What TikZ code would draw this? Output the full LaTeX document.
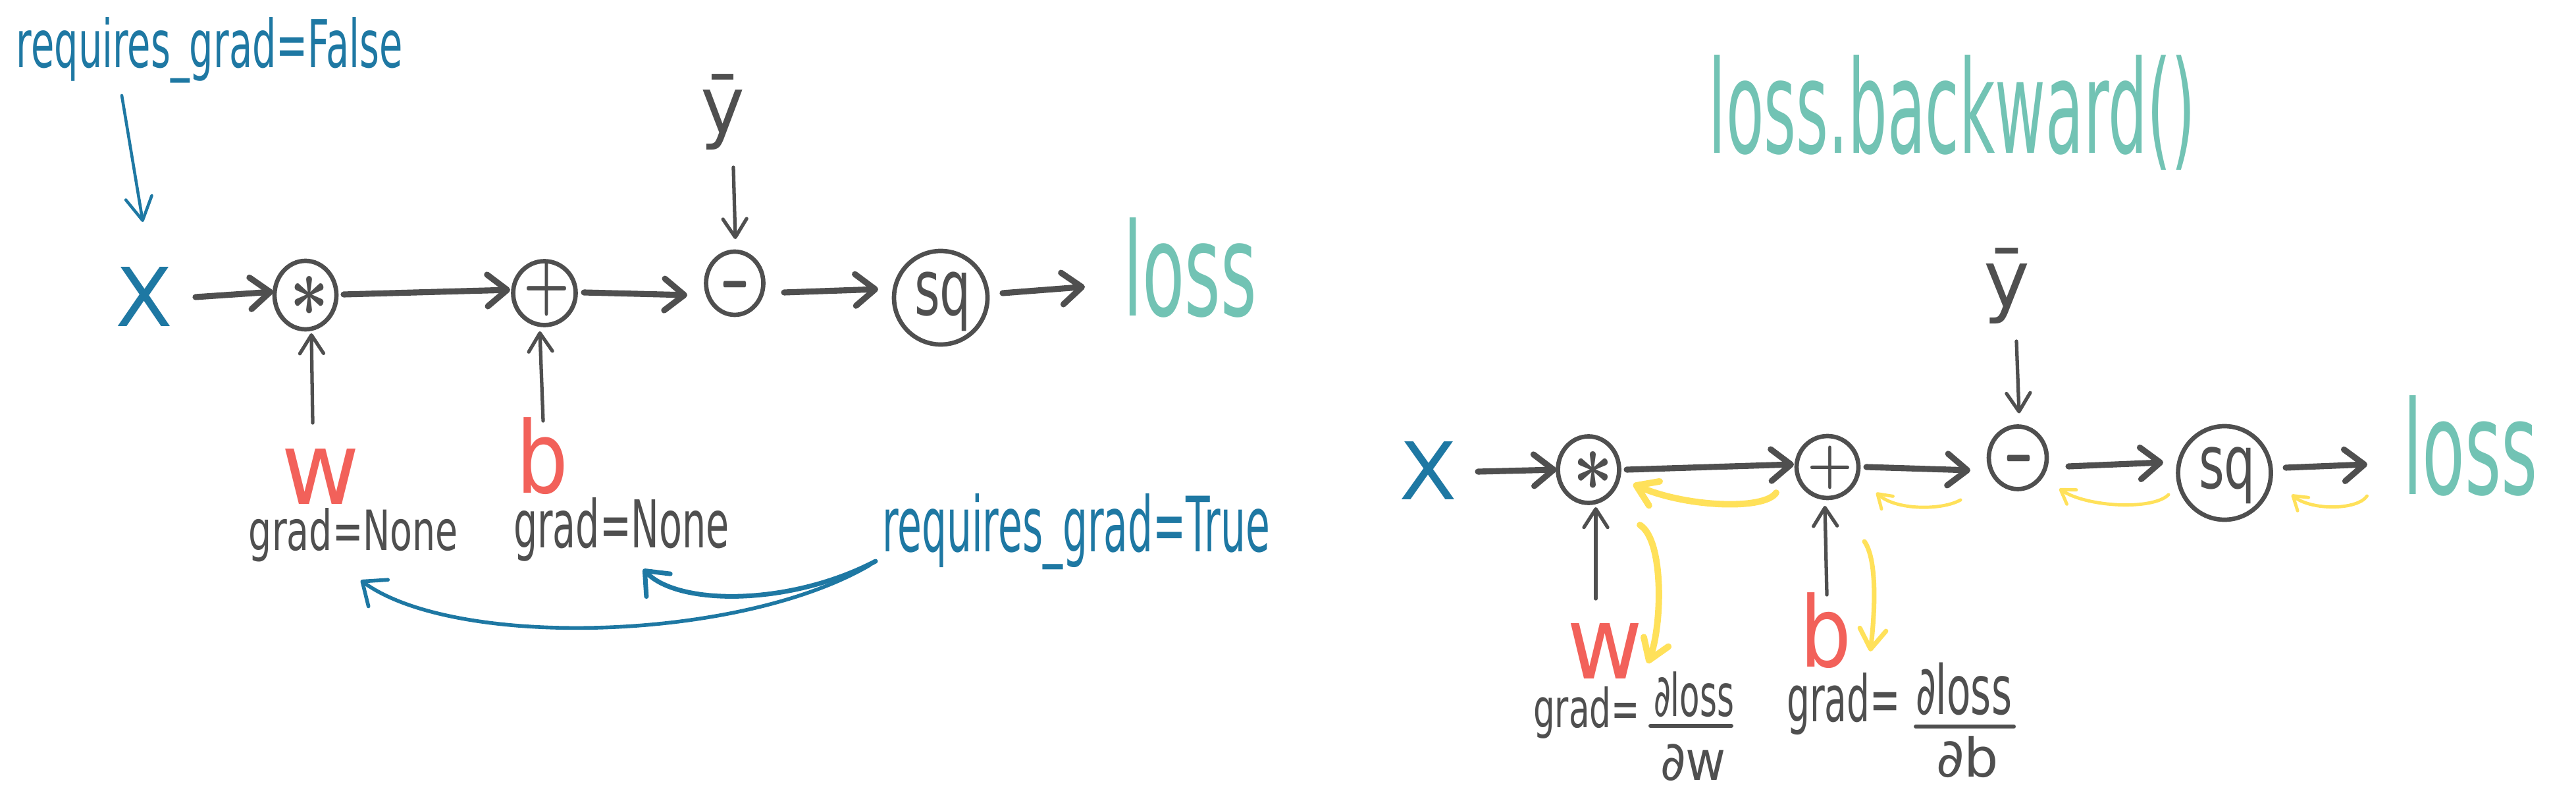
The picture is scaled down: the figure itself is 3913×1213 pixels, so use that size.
\documentclass[tikz,border=0pt]{standalone}
\usepackage[no-math]{fontspec}
\usepackage{graphicx}
\usetikzlibrary{arrows.meta,shapes.geometric,calc}
\newfontfamily\hand{DejaVu Sans}
\definecolor{ink}{HTML}{4F4F4F}
\definecolor{blueink}{HTML}{1E78A3}
\definecolor{redink}{HTML}{F2615A}
\definecolor{tealink}{HTML}{72C3B4}
\definecolor{yelink}{HTML}{FFE15A}
\newdimen\pxu \pxu=0.01cm
% fit the whole box (height+depth)
\newcommand\fitxt[3]{\resizebox*{#1\pxu}{#2\pxu}{\hand #3}}
% fit width and height above the baseline
\newcommand\basetxt[3]{\resizebox{#1\pxu}{#2\pxu}{\hand #3}}
\newcommand\fitsym[3]{\resizebox*{#1\pxu}{#2\pxu}{\boldmath$#3$}}
\newcommand\minussym{\scalebox{1.4}[4.5]{\boldmath$-$}}
\begin{document}
\begin{tikzpicture}[x=0.01cm,y=-0.01cm,
  txt/.style={inner sep=0pt,outer sep=0pt},
  btxt/.style={inner sep=0pt,outer sep=0pt,anchor=base},
  op/.style={ellipse,draw=ink,line width=1.9pt,inner sep=0pt,outer sep=0pt},
  sym/.style={inner sep=0pt,outer sep=0pt,text=ink},
  flow/.style={draw=ink,line width=2.6pt,line cap=round,-{Straight Barb[length=3mm,width=4.8mm,round]}},
  feed/.style={draw=ink,line width=1.5pt,line cap=round,-{Straight Barb[length=2.8mm,width=3.6mm,round]}},
  note/.style={draw=blueink,line width=1.3pt,line cap=round,-{Straight Barb[length=3.5mm,width=4mm,round]}},
  notecurve/.style={draw=blueink,line width=1.6pt,line cap=round,-{Straight Barb[length=3mm,width=5mm,round]}},
  gradbig/.style={draw=yelink,line width=2.8pt,line cap=round,-{Straight Barb[length=3mm,width=4mm,round]}},
  gradmid/.style={draw=yelink,line width=2pt,line cap=round,-{Straight Barb[length=3mm,width=4mm,round]}},
  gradsmall/.style={draw=yelink,line width=1.4pt,line cap=round,-{Straight Barb[length=2mm,width=2.6mm,round]}},
  fracbar/.style={draw=ink,line width=1.7pt,line cap=round}]
\fill[white] (0,0) rectangle (3913,1213);
\useasboundingbox (0,0) rectangle (3913,1213);

% ---------------- left diagram ----------------
\node[btxt,text=blueink] (rgF) at (318.5,103) {\basetxt{587}{76}{requires\_grad=False}};
\node[txt,text=blueink] (XL) at (219.5,450) {\fitxt{87}{90}{X}};
\node[op,minimum width=94\pxu,minimum height=104\pxu,
  label={[sym,xshift=0.06cm,yshift=-0.01cm]center:{\fitsym{59}{60}{\ast}}}] (mulL) at (464,448) {};
\node[op,minimum width=95\pxu,minimum height=97\pxu,
  label={[sym,xshift=0.03cm,yshift=0.07cm]center:{\fitsym{70}{84}{+}}}] (addL) at (827,445) {};
\node[op,minimum width=87\pxu,minimum height=96\pxu,
  label={[sym,yshift=-0.02cm]center:{\minussym}}] (subL) at (1116,430) {};
\node[op,minimum width=142\pxu,minimum height=142\pxu,
  label={[sym,xshift=0.03cm,yshift=-0.06cm]center:{\fitxt{86}{90}{sq}}}] (sqL) at (1429,452) {};
\node[btxt,text=tealink] (lossL) at (1807.5,480) {\basetxt{203}{149}{loss}};
\node[txt,text=ink] (ybL) at (1097.5,170.5) {\fitxt{67}{115}{ȳ}};
\node[txt,text=redink] (wL) at (487.5,723) {\fitxt{119}{84}{w}};
\node[txt,text=redink] (bL) at (823.5,692.5) {\fitxt{79}{117}{b}};
\node[btxt,text=ink] (gN1) at (537,835) {\basetxt{318}{64}{grad=None}};
\node[btxt,text=ink] (gN2) at (944,831) {\basetxt{328}{76}{grad=None}};
\node[btxt,text=blueink] (rgT) at (1634.5,837) {\basetxt{589}{88}{requires\_grad=True}};

\draw[flow] ($(XL.east)+(34,1)$) -- ($(mulL.west)+(-2,-5)$);
\draw[flow] ($(mulL.east)+(11,-1)$) -- ($(addL.west)+(-4.5,-5)$);
\draw[flow] ($(addL.east)+(12.5,-1)$) -- ($(subL.west)+(-28.5,18)$);
\draw[flow] ($(subL.east)+(31.5,14)$) -- ($(sqL.west)+(-24,-13)$);
\draw[flow] ($(sqL.east)+(23,-7)$) -- ($(lossL.west)+(-58,28.5)$);
\draw[feed] ($(ybL.south)+(16.5,26)$) -- ($(subL.north)+(1,-19)$);
\draw[feed] ($(wL.north)+(-12.5,-39)$) -- ($(mulL.south)+(9,6)$);
\draw[feed] ($(bL.north)+(1.5,5)$) -- ($(addL.south)+(-7,9.5)$);
\draw[note] ($(rgF.base)+(-133.5,42)$) -- ($(XL.north)+(-2.5,-68)$);
\draw[notecurve] ($(rgT.base west)+(-19,21)$) .. controls +(-201,117) and +(142,104) .. ($(gN1.base)+(11,46)$);
\draw[notecurve,line width=2pt] ($(rgT.base west)+(-10,15)$) .. controls +(-130,68) and +(53,56) .. ($(gN2.base)+(33,33)$);

% ---------------- right diagram ----------------
\node[btxt,text=tealink] (title) at (2965.5,233) {\basetxt{739}{149}{loss.backward()}};
\node[txt,text=blueink] (XR) at (2169,714) {\fitxt{88}{88}{X}};
\node[op,minimum width=93\pxu,minimum height=101\pxu,
  label={[sym,xshift=0.07cm,yshift=-0.02cm]center:{\fitsym{61}{59}{\ast}}}] (mulR) at (2413,713) {};
\node[op,minimum width=94\pxu,minimum height=94\pxu,
  label={[sym,xshift=0.04cm,yshift=-0.01cm]center:{\fitsym{69}{66}{+}}}] (addR) at (2776,709) {};
\node[op,minimum width=88\pxu,minimum height=95\pxu,
  label={[sym,xshift=0.01cm,yshift=-0.01cm]center:{\minussym}}] (subR) at (3065,695) {};
\node[op,minimum width=141\pxu,minimum height=142\pxu,
  label={[sym,xshift=0.04cm,yshift=-0.04cm]center:{\fitxt{86}{86}{sq}}}] (sqR) at (3379,718) {};
\node[btxt,text=tealink] (lossR) at (3752.5,750) {\basetxt{205}{150}{loss}};
\node[txt,text=ink] (ybR) at (3048,434.5) {\fitxt{70}{115}{ȳ}};
\node[txt,text=redink] (wR) at (2437.5,988) {\fitxt{115}{84}{w}};
\node[txt,text=redink] (bR) at (2773,957.5) {\fitxt{78}{115}{b}};
\node[btxt,text=ink] (gradW) at (2410,1104) {\basetxt{162}{62}{grad=}};
\node[txt,text=ink] (numW) at (2573,1054.5) {\fitxt{122}{69}{∂loss}};
\node[txt,text=ink] (denW) at (2572,1158) {\fitxt{100}{56}{∂w}};
\node[btxt,text=ink] (gradB) at (2800.5,1095) {\basetxt{173}{74}{grad=}};
\node[txt,text=ink] (numB) at (2983,1046) {\fitxt{146}{80}{∂loss}};
\node[txt,text=ink] (denB) at (2988.5,1149.5) {\fitxt{95}{63}{∂b}};
\draw[fracbar] ($(numW.south west)+(-5,13)$) -- ($(numW.south east)+(-4,13)$);
\draw[fracbar] ($(numB.south west)+(0,17)$) -- ($(numB.south east)+(3,17)$);

\draw[flow] ($(XR.east)+(32,2)$) -- ($(mulR.west)+(-2,0)$);
\draw[flow] ($(mulR.east)+(11.5,0)$) -- ($(addR.west)+(-4,-4)$);
\draw[flow] ($(addR.east)+(12,0)$) -- ($(subR.west)+(-28,19)$);
\draw[flow] ($(subR.east)+(33,13)$) -- ($(sqR.west)+(-22.5,-16)$);
\draw[flow] ($(sqR.east)+(22.5,-8)$) -- ($(lossR.base west)+(-54,-45)$);
\draw[feed] ($(ybR.south)+(15,26)$) -- ($(subR.north)+(2,-20)$);
\draw[feed] ($(wR.north)+(-13.5,-37)$) -- ($(mulR.south)+(11,6.5)$);
\draw[feed] ($(bR.north)+(2,3)$) -- ($(addR.south)+(-4,12)$);

\draw[gradbig] ($(addR.center)+(-78,39)$) .. controls +(-18,27) and +(79,35) .. ($(mulR.center)+(68,22)$);
\draw[gradsmall] ($(subR.center)+(-87,64)$) .. controls +(-28,16) and +(30,27) .. ($(addR.center)+(74,39)$);
\draw[gradsmall] ($(sqR.center)+(-85,33)$) .. controls +(-24,24) and +(42,28) .. ($(subR.center)+(63,47)$);
\draw[gradsmall] ($(lossR.base)+(-157,3)$) .. controls +(-15,22) and +(29,24) .. ($(sqR.center)+(102,33)$);
\draw[gradbig] ($(mulR.center)+(78,84)$) .. controls +(37,23) and +(22,-57) .. ($(wR.center)+(65.5,19)$);
\draw[gradmid] ($(addR.center)+(56,113)$) .. controls +(20,28) and +(7,-59) .. ($(bR.center)+(68,31.5)$);
\end{tikzpicture}
\end{document}
